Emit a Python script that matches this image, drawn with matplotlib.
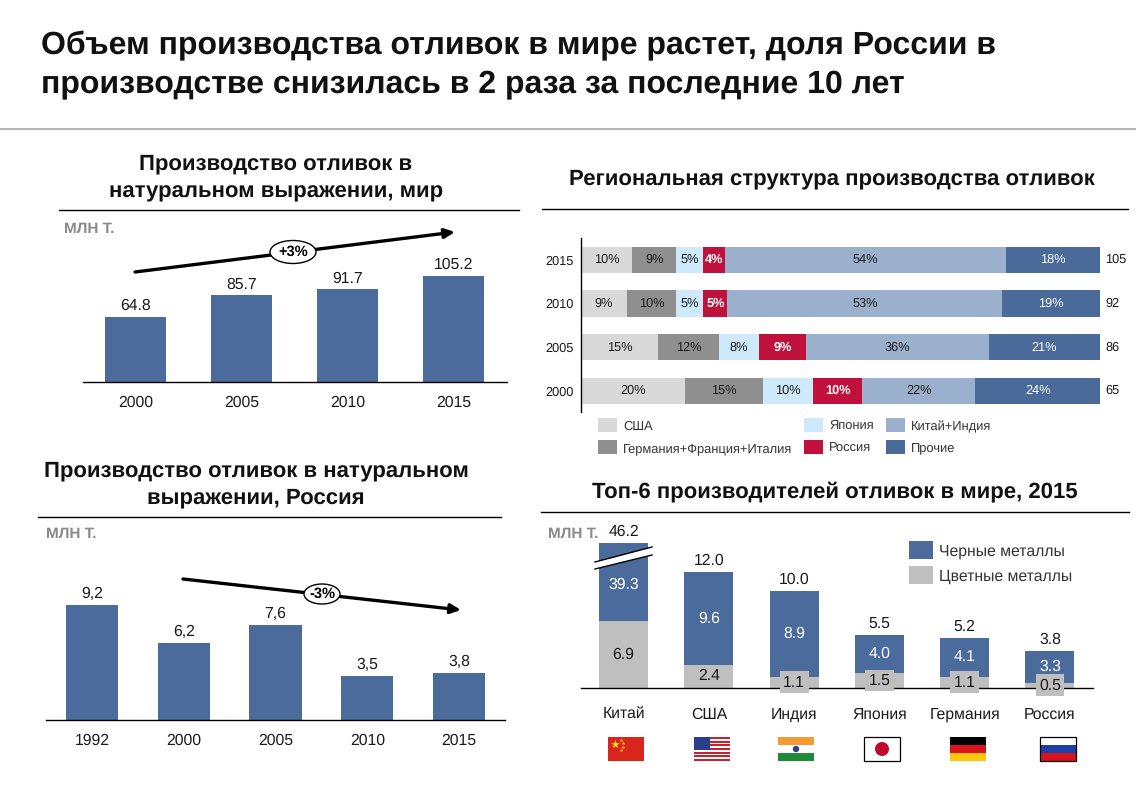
import numpy as np
from matplotlib import pyplot as plt
from matplotlib.patches import Circle, Ellipse, Polygon, Rectangle

plt.rcParams['font.family'] = ['Liberation Sans', 'DejaVu Sans']
plt.rcParams['text.hinting'] = 'no_hinting'

W, H = 1136, 785
BLUE = '#4a6b9b'
TXT = '#1a1a1a'

world_years = ['2000', '2005', '2010', '2015']
world_values = [64.8, 85.7, 91.7, 105.2]

russia_years = ['1992', '2000', '2005', '2010', '2015']
russia_values = [9.2, 6.2, 7.6, 3.5, 3.8]
russia_labels = ['9,2', '6,2', '7,6', '3,5', '3,8']

region_years = ['2000', '2005', '2010', '2015']
region_totals = [65, 86, 92, 105]
region_names = ['США', 'Германия+Франция+Италия', 'Япония', 'Россия', 'Китай+Индия', 'Прочие']
region_colors = ['#d9d9d9', '#8f8f8f', '#cde9fa', '#c0103c', '#9bb0cd', '#4a6a99']
region_shares = [
    [20.0, 14.8, 8.9, 9.8],
    [15.1, 11.8, 9.5, 8.6],
    [9.6, 7.7, 5.2, 5.2],
    [9.5, 9.1, 4.6, 4.1],
    [21.8, 35.2, 53.0, 54.1],
    [24.0, 21.4, 18.8, 18.2],
]
region_labels = [
    ['20%', '15%', '9%', '10%'],
    ['15%', '12%', '10%', '9%'],
    ['10%', '8%', '5%', '5%'],
    ['10%', '9%', '5%', '4%'],
    ['22%', '36%', '53%', '54%'],
    ['24%', '21%', '19%', '18%'],
]

top_countries = ['Китай', 'США', 'Индия', 'Япония', 'Германия', 'Россия']
top_ferrous = [39.3, 9.6, 8.9, 4.0, 4.1, 3.3]
top_nonferrous = [6.9, 2.4, 1.1, 1.5, 1.1, 0.5]
top_totals = [46.2, 12.0, 10.0, 5.5, 5.2, 3.8]


def px_axes(left, top, right, bottom):
    ax = fig.add_axes([left / W, 1 - bottom / H, (right - left) / W, (bottom - top) / H])
    ax.patch.set_alpha(0)
    for s in ax.spines.values():
        s.set_visible(False)
    ax.set_yticks([])
    return ax


def column_chart(ax, names, values, labels, width, pad):
    ax.bar(range(len(values)), values, width, color=BLUE)
    for i, v in enumerate(values):
        ax.annotate(labels[i], (i, v), xytext=(0, 11), textcoords='offset pixels', ha='center',
                    va='center', fontsize=11.3, color=TXT, annotation_clip=False)
    ax.set_xlim(-0.5, len(values) - 0.5)
    ax.set_xticks(range(len(values)), names, fontsize=11.3, color=TXT)
    ax.tick_params(axis='x', length=0, pad=pad)
    ax.spines['bottom'].set_visible(True)
    ax.spines['bottom'].set_linewidth(1.0)


def trend(x0, y0, x1, y1, cx, cy, w, h, text):
    over.annotate('', xy=(x1, y1), xytext=(x0, y0),
                  arrowprops=dict(arrowstyle='-|>,head_width=0.28,head_length=0.6', lw=2.4, color='black',
                                  shrinkA=0, shrinkB=0))
    over.add_patch(Ellipse((cx, cy), w, h, fc='white', ec='black', lw=1.0, zorder=5))
    over.text(cx, cy, text, ha='center', va='center', fontsize=10.5, fontweight='bold', zorder=6)


def flag(kind, x, y, w=36, h=24):
    def box(x0, y0, bw, bh, c):
        over.add_patch(Rectangle((x + x0, y + y0), bw, bh, fc=c, ec='none'))
    if kind == 'cn':
        box(0, 0, w, h, '#d8261c')
        over.scatter([x + 7], [y + 7], marker='*', s=45, c='#f5d21f', linewidths=0, zorder=3)
        over.scatter([x + 13, x + 15, x + 15, x + 13], [y + 3, y + 6, y + 10, y + 13], marker='*', s=8,
                     c='#f5d21f', linewidths=0, zorder=3)
    elif kind == 'us':
        for i in range(13):
            box(0, i * h / 13, w, h / 13, '#c8202f' if i % 2 == 0 else 'white')
        box(0, 0, w * 0.45, h * 7 / 13, '#2b3f86')
    elif kind == 'in':
        box(0, 0, w, h / 3, '#f49a32')
        box(0, h / 3, w, h / 3, 'white')
        box(0, 2 * h / 3, w, h / 3, '#218a3a')
        over.add_patch(Circle((x + w / 2, y + h / 2), 3.2, fc='#2b3f86', ec='none', zorder=3))
    elif kind == 'jp':
        box(0, 0, w, h, 'white')
        over.add_patch(Circle((x + w / 2, y + h / 2), 7, fc='#bf0a30', ec='none', zorder=3))
    elif kind == 'de':
        box(0, 0, w, h / 3, 'black')
        box(0, h / 3, w, h / 3, '#d7141a')
        box(0, 2 * h / 3, w, h / 3, '#fcc60a')
    elif kind == 'ru':
        box(0, 0, w, h / 3, 'white')
        box(0, h / 3, w, h / 3, '#1c3fa8')
        box(0, 2 * h / 3, w, h / 3, '#d7141a')
    if kind in ('jp', 'ru'):
        over.add_patch(Rectangle((x, y), w, h, fc='none', ec='black', lw=0.9, zorder=4))


fig = plt.figure(figsize=(W / 100, H / 100), dpi=100, facecolor='white')

# слой в пикселях для заголовков, линий, стрелок и флагов
over = fig.add_axes([0, 0, 1, 1])
over.set_xlim(0, W)
over.set_ylim(H, 0)
over.axis('off')

over.text(41, 46, 'Объем производства отливок в мире растет, доля России в', fontsize=23.0, fontweight='bold',
          va='center', color='#111111')
over.text(41, 84, 'производстве снизилась в 2 раза за последние 10 лет', fontsize=23.0, fontweight='bold',
          va='center', color='#111111')
over.plot([0, W], [129, 129], color='#b5b5b5', lw=1.5)

for x0, x1, y in [(59, 519, 210), (542, 1128, 209), (38, 501, 517), (541, 1129, 512)]:
    over.plot([x0, x1], [y, y], color='black', lw=1.0)

for cx, cy, t in [(276, 164, 'Производство отливок в'), (276, 192, 'натуральном выражении, мир'),
                  (832, 179, 'Региональная структура производства отливок'),
                  (256, 471, 'Производство отливок в натуральном'), (256, 498, 'выражении, Россия'),
                  (835, 492, 'Топ-6 производителей отливок в мире, 2015')]:
    over.text(cx, cy, t, ha='center', va='center', fontsize=15.95, fontweight='bold', color='#111111')

for x, y in [(64, 229), (46, 534), (548, 534)]:
    over.text(x, y, 'МЛН Т.', va='center', fontsize=11, fontweight='bold', color='#8a8a8a')

# мир
ax = px_axes(82.5, 232, 506.5, 382)
column_chart(ax, world_years, world_values, [f'{v:.1f}' for v in world_values], 0.575, 9.5)
ax.set_ylim(0, 150 / 1.01)
trend(135, 272, 455, 232, 293, 252, 46, 23, '+3%')

# Россия
ax = px_axes(46, 560, 505, 720)
column_chart(ax, russia_years, russia_values, russia_labels, 0.567, 9.5)
ax.set_ylim(0, 160 / 12.5)
trend(183, 579, 461, 610, 322, 594, 36, 20, '-3%')

# региональная структура
ax = px_axes(581, 238, 1100, 412)
left = np.zeros(len(region_years))
for i, name in enumerate(region_names):
    vals = np.array(region_shares[i])
    ax.barh(range(len(region_years)), vals, 0.6, left=left, color=region_colors[i])
    for j, v in enumerate(vals):
        light = i in (3, 5)
        ax.text(left[j] + v / 2, j, region_labels[i][j], ha='center', va='center', fontsize=9.2,
                color='white' if light else TXT, fontweight='bold' if i == 3 else 'normal')
    left += vals
ax.set_xlim(0, 100)
ax.set_ylim(-0.48, 3.5)
ax.set_xticks([])
ax.set_yticks(range(len(region_years)), region_years, fontsize=9.2, color=TXT)
ax.tick_params(axis='y', length=0, pad=5)
ax.spines['left'].set_visible(True)
ax.spines['left'].set_linewidth(1.0)
for j, t in enumerate(region_totals):
    ax.annotate(str(t), (100, j), xytext=(5, 0), textcoords='offset pixels', va='center', fontsize=9.2,
                color=TXT, annotation_clip=False)

legend_places = [(598, 425), (598, 447), (804, 425), (804, 447), (886, 425), (886, 447)]
for (x, y), name, c in zip(legend_places, region_names, region_colors):
    over.add_patch(Rectangle((x, y - 7), 19, 14, fc=c, ec='none'))
    over.text(x + 25, y + 5, name, va='baseline', fontsize=9.3, color='#333333')

# топ-6
ax = px_axes(581, 543, 1092.6, 687.7)
pos = np.arange(len(top_countries))
ax.bar(pos, top_nonferrous, 0.575, color='#bfbfbf')
ax.bar(pos, top_ferrous, 0.575, bottom=top_nonferrous, color=BLUE)
ax.set_xlim(-0.5, 5.5)
ax.set_ylim(0, 144.7 / 9.65)
ax.set_xticks(pos, top_countries, fontsize=11.3, color=TXT, va='baseline')
ax.tick_params(axis='x', length=0, pad=22.5)
ax.spines['bottom'].set_visible(True)
ax.spines['bottom'].set_linewidth(1.0)
ax.spines['bottom'].set_zorder(2)
for i in pos:
    fer_y = top_nonferrous[i] + top_ferrous[i] / 2 if i > 0 else 10.7
    ax.text(i, fer_y, f'{top_ferrous[i]:.1f}', ha='center', va='center', fontsize=11.3, color='white', zorder=4)
    box = None
    if top_nonferrous[i] < 2:
        box = dict(fc='#bfbfbf', ec='none', pad=2.5)
    ax.text(i, top_nonferrous[i] / 2, f'{top_nonferrous[i]:.1f}', ha='center', va='center', fontsize=11.3,
            color=TXT, bbox=box, zorder=5)
    ax.annotate(f'{top_totals[i]:.1f}', (i, min(top_totals[i], 15)), xytext=(0, 11), textcoords='offset pixels',
                ha='center', va='center', fontsize=11.3, color=TXT, annotation_clip=False)

# разрыв столбца Китая
over.add_patch(Polygon([(595, 562), (652, 547), (652, 555), (595, 569)], fc='white', ec='none', zorder=6))
over.plot([595, 652], [562, 547], color='black', lw=1.0, zorder=7)
over.plot([595, 652], [569, 555], color='black', lw=1.0, zorder=7)
over.set_zorder(3)

for y, name, c in [(550, 'Черные металлы', BLUE), (575, 'Цветные металлы', '#bfbfbf')]:
    over.add_patch(Rectangle((909, y - 9), 24, 18, fc=c, ec='none'))
    over.text(939, y + 5.5, name, va='baseline', fontsize=11.3, color='#333333')

for kind, x in zip(['cn', 'us', 'in', 'jp', 'de', 'ru'], [608, 694, 778, 864, 950, 1040]):
    flag(kind, x, 737)

fig.savefig('out.png', dpi=100)
